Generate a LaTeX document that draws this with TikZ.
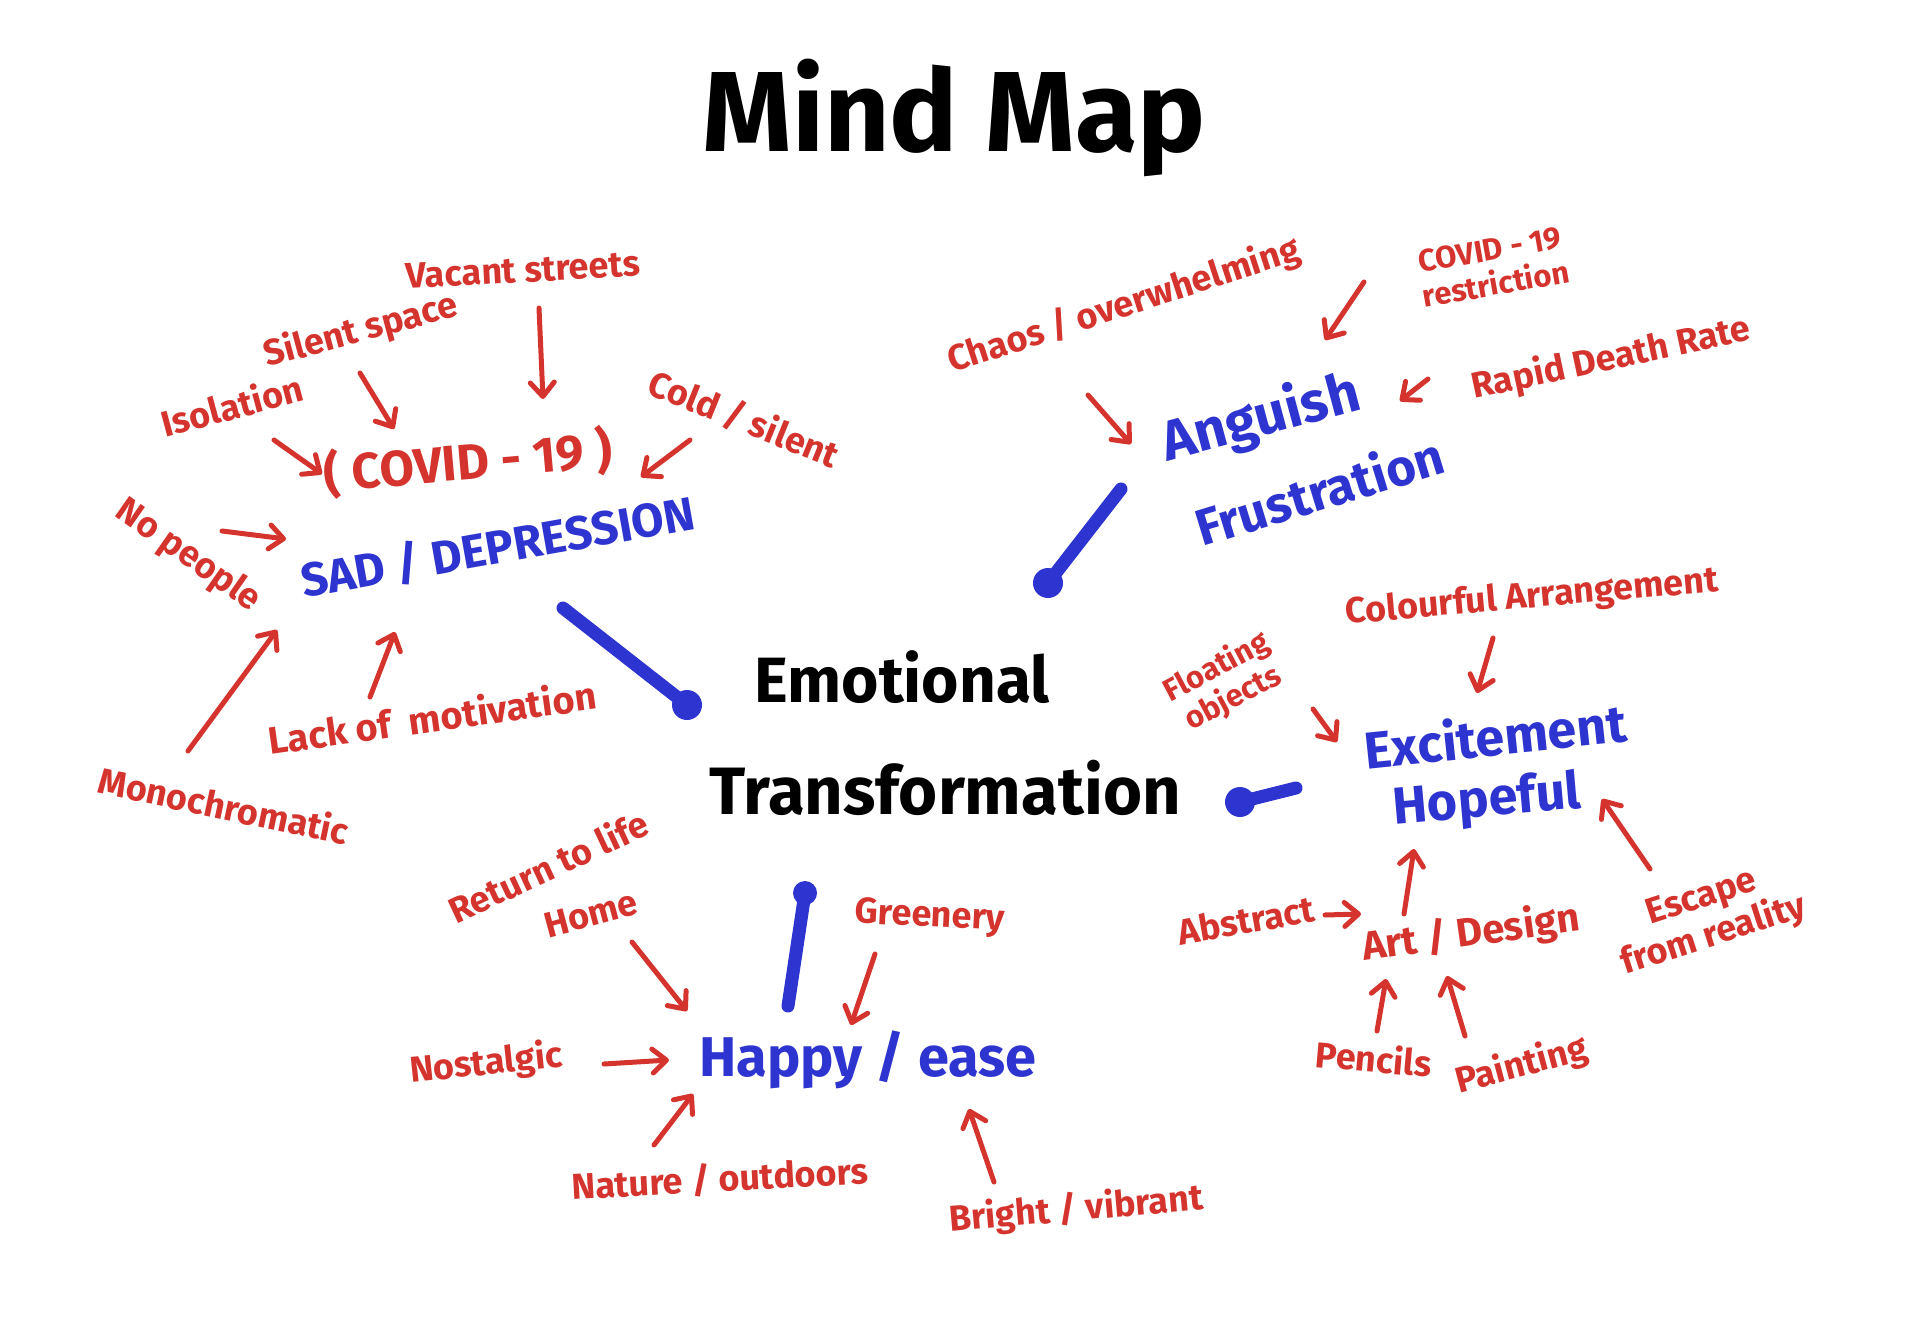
\documentclass[tikz,border=0pt]{standalone}
\usepackage{fontspec}
\setmainfont{Fira Sans}
\usetikzlibrary{arrows.meta}
\definecolor{myred}{RGB}{212,52,45}
\definecolor{myblue}{RGB}{46,52,208}
\tikzset{
  lab/.style={text=myred, font=\fontsize{36}{40}\selectfont\bfseries, inner sep=0pt, align=center},
  blab/.style={text=myblue, font=\fontsize{56}{60}\selectfont\bfseries, inner sep=0pt},
  klab/.style={text=black, font=\fontsize{64}{70}\selectfont\bfseries, inner sep=0pt},
  arr/.style={draw=myred, line width=5pt, line cap=round, line join=round,
    -{Straight Barb[round,length=14pt,width=24pt]}},
  conn/.style={draw=myblue, line width=13pt, line cap=round},
  dot/.style={circle, fill=myblue, minimum size=30pt, inner sep=0pt}
}
\begin{document}
\begin{tikzpicture}[x=1pt,y=-1pt]
\useasboundingbox (0,0) rectangle (1906,1332);
\fill[white] (0,0) rectangle (1906,1332);

% title
\node[klab, font=\fontsize{114}{120}\selectfont\bfseries] (title) at (954,118) {Mind Map};

% centre
\node[klab] (emo) at (902,677) {Emotional};
\node[klab, font=\fontsize{67}{72}\selectfont\bfseries] (trans) at (945,788) {Transformation};

% ---------- SAD cluster ----------
\node[blab, font=\fontsize{47}{50}\selectfont\bfseries, rotate=10] (sad) at (498,547) {SAD / DEPRESSION};
\node[lab, font=\fontsize{50}{54}\selectfont\bfseries, rotate=5] (covid) at (468,462) {( COVID - 19 )};
\node[lab, rotate=3] (vacant) at (523,270) {Vacant streets};
\node[lab, rotate=15] (silent) at (361,331) {Silent space};
\node[lab, rotate=15] (isol) at (232,405) {Isolation};
\node[lab, rotate=-22] (cold) at (744,419) {Cold / silent};
\node[lab, rotate=-35] (nopeople) at (188,556) {No people};
\node[lab, font=\fontsize{38}{42}\selectfont\bfseries, rotate=8] (lack) at (432,717) {Lack of \ motivation};
\node[lab, rotate=-12] (mono) at (224,805) {Monochromatic};

\coordinate (vacA) at (539,308); \coordinate (vacB) at (543,399);
\coordinate (silA) at (360,373); \coordinate (silB) at (394,429);
\coordinate (isoA) at (274,440); \coordinate (isoB) at (322,474);
\coordinate (colA) at (690,440); \coordinate (colB) at (641,477);
\coordinate (nopA) at (222,531); \coordinate (nopB) at (286,539);
\coordinate (monA) at (188,751); \coordinate (monB) at (277,630);
\coordinate (lacA) at (370,697); \coordinate (lacB) at (395,632);
\draw[arr] (vacA) -- (vacB);
\draw[arr] (silA) -- (silB);
\draw[arr] (isoA) -- (isoB);
\draw[arr] (colA) -- (colB);
\draw[arr] (nopA) -- (nopB);
\draw[arr] (monA) -- (monB);
\draw[arr] (lacA) -- (lacB);

% ---------- Anguish cluster ----------
\node[blab, rotate=15] (ang) at (1261,419) {Anguish};
\node[blab, font=\fontsize{51}{54}\selectfont\bfseries, rotate=17] (frus) at (1319,490) {Frustration};
\node[lab, rotate=18] (chaos) at (1124,306) {Chaos / overwhelming};
\node[lab, font=\fontsize{31}{35}\selectfont\bfseries, rotate=10] (covres) at (1493,267) {COVID - 19\\restriction};
\node[lab, rotate=12] (rapid) at (1611,359) {Rapid Death Rate};
\coordinate (chaA) at (1088,395); \coordinate (chaB) at (1131,444);
\coordinate (creA) at (1364,282); \coordinate (creB) at (1325,340);
\coordinate (rapA) at (1428,379); \coordinate (rapB) at (1400,401);
\draw[arr] (chaA) -- (chaB);
\draw[arr] (creA) -- (creB);
\draw[arr] (rapA) -- (rapB);

% ---------- Excitement cluster ----------
\node[blab, font=\fontsize{52}{56}\selectfont\bfseries, rotate=6] (exc) at (1495,735) {Excitement};
\node[blab, font=\fontsize{52}{56}\selectfont\bfseries, rotate=5] (hope) at (1487,802) {Hopeful};
\node[lab, rotate=5] (colour) at (1532,598) {Colourful Arrangement};
\node[lab, font=\fontsize{31}{35}\selectfont\bfseries, rotate=28] (float) at (1225,683) {Floating\\objects};
\node[lab, rotate=18] (escape) at (1708,918) {Escape\\from reality};
\node[lab, font=\fontsize{40}{44}\selectfont\bfseries, rotate=8] (art) at (1471,934) {Art / Design};
\node[lab, rotate=10] (abstract) at (1246,920) {Abstract};
\node[lab, rotate=-5] (pencils) at (1374,1058) {Pencils};
\node[lab, rotate=15] (painting) at (1522,1066) {Painting};
\coordinate (couA) at (1493,638); \coordinate (couB) at (1477,693);
\coordinate (floA) at (1313,709); \coordinate (floB) at (1337,742);
\coordinate (escA) at (1650,869); \coordinate (escB) at (1602,799);
\coordinate (artA) at (1404,914); \coordinate (artB) at (1414,849);
\coordinate (absA) at (1325,915); \coordinate (absB) at (1361,914);
\coordinate (penA) at (1377,1031); \coordinate (penB) at (1386,979);
\coordinate (paiA) at (1465,1036); \coordinate (paiB) at (1447,976);
\draw[arr] (couA) -- (couB);
\draw[arr] (floA) -- (floB);
\draw[arr] (escA) -- (escB);
\draw[arr] (artA) -- (artB);
\draw[arr] (absA) -- (absB);
\draw[arr] (penA) -- (penB);
\draw[arr] (paiA) -- (paiB);

% ---------- Happy cluster ----------
\node[blab, rotate=0] (happy) at (868,1060) {Happy / ease};
\node[lab, rotate=25] (ret) at (548,866) {Return to life};
\node[lab, rotate=15] (home) at (591,914) {Home};
\node[lab, rotate=-3] (green) at (930,918) {Greenery};
\node[lab, rotate=6] (nost) at (486,1064) {Nostalgic};
\node[lab, rotate=3] (nature) at (720,1179) {Nature / outdoors};
\node[lab, rotate=5] (bright) at (1076,1210) {Bright / vibrant};
\coordinate (homA) at (632,942); \coordinate (homB) at (687,1011);
\coordinate (greA) at (875,954); \coordinate (greB) at (851,1025);
\coordinate (nosA) at (604,1064); \coordinate (nosB) at (669,1060);
\coordinate (natA) at (654,1145); \coordinate (natB) at (693,1094);
\coordinate (briA) at (994,1182); \coordinate (briB) at (969,1109);
\draw[arr] (homA) -- (homB);
\draw[arr] (greA) -- (greB);
\draw[arr] (nosA) -- (nosB);
\draw[arr] (natA) -- (natB);
\draw[arr] (briA) -- (briB);

% ---------- blue connectors ----------
\coordinate (c1) at (563,608); \node[dot] (d1) at (687,705) {};
\coordinate (c2) at (1121,489); \node[dot] (d2) at (1048,583) {};
\coordinate (c3) at (1296,788); \node[dot] (d3) at (1240,802) {};
\coordinate (c4) at (788,1006); \node[dot, minimum size=24pt] (d4) at (805,893) {};
\draw[conn] (c1) -- (d1.center);
\draw[conn] (c2) -- (d2.center);
\draw[conn] (c3) -- (d3.center);
\draw[conn] (c4) -- (d4.center);
\end{tikzpicture}
\end{document}
